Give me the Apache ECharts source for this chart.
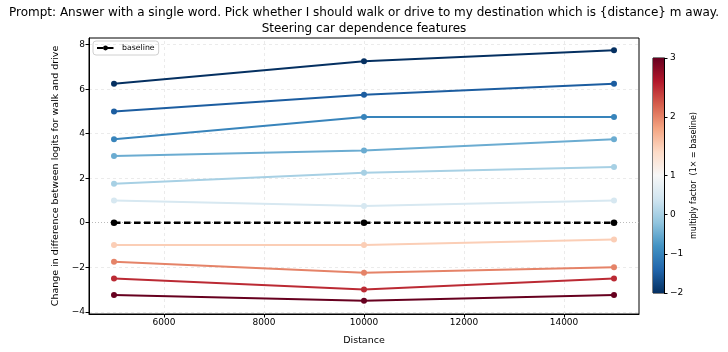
<!DOCTYPE html>
<html><head><meta charset="utf-8">
<script src="https://cdn.jsdelivr.net/npm/echarts@6/dist/echarts.min.js"></script>
<style>html,body{margin:0;padding:0;background:#fff}#c{width:728px;height:352px}</style>
</head><body><div id="c"></div>
<script>
// ---- data ----
const distances = [5000, 10000, 15000];
const xTicks = [6000, 8000, 10000, 12000, 14000];
const yTicks = [-4, -2, 0, 2, 4, 6, 8];
const cbarTicks = [-2, -1, 0, 1, 2, 3];
const factors = [-2, -1.5, -1, -0.5, 0, 0.5, 1.5, 2, 2.5, 3];
const f_m2_0 = [6.25, 7.25, 7.75];
const f_m1_5 = [5.0, 5.75, 6.25];
const f_m1_0 = [3.75, 4.75, 4.75];
const f_m0_5 = [3.0, 3.25, 3.75];
const f_0_0 = [1.75, 2.25, 2.5];
const f_0_5 = [1.0, 0.75, 1.0];
const f_1_5 = [-1.0, -1.0, -0.75];
const f_2_0 = [-1.75, -2.25, -2.0];
const f_2_5 = [-2.5, -3.0, -2.5];
const f_3_0 = [-3.25, -3.5, -3.25];
const baseline = [0, 0, 0];
const factorValues = [f_m2_0, f_m1_5, f_m1_0, f_m0_5, f_0_0, f_0_5, f_1_5, f_2_0, f_2_5, f_3_0];

// ---- colormap (RdBu_r, two-slope norm centred at 1) ----
const rdbu_r = ['#053061','#2166ac','#4393c3','#92c5de','#d1e5f0','#f7f7f7','#fddbc7','#f4a582','#d6604d','#b2182b','#67001f'];
function hex2rgb(h){return [parseInt(h.slice(1,3),16),parseInt(h.slice(3,5),16),parseInt(h.slice(5,7),16)];}
function cmap(t){
  t = Math.max(0, Math.min(1, t));
  const p = t * (rdbu_r.length - 1);
  const i = Math.min(Math.floor(p), rdbu_r.length - 2);
  const f = p - i;
  const a = hex2rgb(rdbu_r[i]), b = hex2rgb(rdbu_r[i+1]);
  return 'rgb(' + a.map((v,k)=>Math.round(v + (b[k]-v)*f)).join(',') + ')';
}
function norm(v){ return v < 1 ? 0.5 * (v + 2) / 3 : 0.5 + 0.5 * (v - 1) / 2; }
const minus = v => String(v).replace('-', '\u2212');

const FONT = 'DejaVu Sans';
const series = [];

// grid lines drawn from tick arrays via markLine on a helper series (below data)
series.push({
  type: 'line', xAxisIndex: 0, yAxisIndex: 0, data: [], silent: true, animation: false, z: 0,
  markLine: {
    silent: true, symbol: 'none', label: {show: false}, animation: false, z: 0,
    lineStyle: {color: '#e6e6e6', width: 0.8, type: [3, 3]},
    data: xTicks.map(v => ({xAxis: v})).concat(yTicks.filter(v => v !== 0).map(v => ({yAxis: v})))
  }
});
series.push({
  type: 'line', xAxisIndex: 0, yAxisIndex: 0, data: [], silent: true, animation: false, z: 0,
  markLine: {
    silent: true, symbol: 'none', label: {show: false}, animation: false, z: 0,
    lineStyle: {color: '#aaa', width: 0.8, type: [1, 2]},
    data: [{yAxis: 0}]
  }
});

factorValues.forEach((vals, i) => {
  const c = cmap(norm(factors[i]));
  series.push({
    name: 'factor ' + factors[i], type: 'line', xAxisIndex: 0, yAxisIndex: 0,
    data: distances.map((d, j) => [d, vals[j]]),
    symbol: 'circle', symbolSize: 6, showSymbol: true,
    lineStyle: {color: c, width: 2}, itemStyle: {color: c},
    z: 3, silent: true, animation: false
  });
});
series.push({
  name: 'baseline', type: 'line', xAxisIndex: 0, yAxisIndex: 0,
  data: distances.map((d, j) => [d, baseline[j]]),
  symbol: 'circle', symbolSize: 6.5,
  lineStyle: {color: '#000', width: 2.4, type: [6.5, 3.5]}, itemStyle: {color: '#000'},
  z: 6, animation: false
});
// colorbar
series.push({
  type: 'bar', xAxisIndex: 1, yAxisIndex: 1, data: [1], barWidth: '100%', silent: true, animation: false,
  itemStyle: {color: {type: 'linear', x: 0, y: 1, x2: 0, y2: 0,
    colorStops: rdbu_r.map((c, i) => ({offset: i / (rdbu_r.length - 1), color: c}))}}
});

const cbLabel = v => { const t = cbarTicks.find(k => Math.abs(norm(k) - v) < 1e-6); return t === undefined ? '' : minus(t); };

const option = {
  backgroundColor: '#fff',
  animation: false,
  textStyle: {fontFamily: FONT},
  title: {
    text: 'Prompt: Answer with a single word. Pick whether I should walk or drive to my destination which is {distance} m away.\nSteering car dependence features',
    left: 'center', top: 0,
    textStyle: {fontFamily: FONT, fontSize: 12, fontWeight: 'normal', color: '#000', lineHeight: 16}
  },
  legend: {
    data: [{name: 'baseline'}], left: 93, top: 41, orient: 'vertical',
    itemWidth: 17, itemHeight: 6, itemGap: 4,
    padding: [3, 4, 3, 3], borderColor: '#d0d0d0', borderWidth: 1, borderRadius: 3,
    textStyle: {fontFamily: FONT, fontSize: 7.8, color: '#000', padding: [0, 0, 0, 3]}
  },
  grid: [
    {left: 89, right: 89, top: 38, bottom: 38, show: true, borderColor: '#000', borderWidth: 1, backgroundColor: 'transparent'},
    {left: 653, width: 11, top: 58, height: 235, show: true, borderColor: '#000', borderWidth: 1}
  ],
  xAxis: [
    {type: 'value', gridIndex: 0, min: 4500, max: 15500,
     name: 'Distance', nameLocation: 'middle', nameGap: 22,
     nameTextStyle: {fontFamily: FONT, fontSize: 9.5, color: '#000'},
     axisLine: {show: true, onZero: false, lineStyle: {color: '#000'}},
     axisTick: {show: true, inside: false, length: 3.5, customValues: xTicks, lineStyle: {color: '#000'}},
     axisLabel: {customValues: xTicks, fontFamily: FONT, fontSize: 9, color: '#000', margin: 4, formatter: v => String(v)},
     splitLine: {show: false}},
    {type: 'category', gridIndex: 1, data: ['cb'], show: false}
  ],
  yAxis: [
    {type: 'value', gridIndex: 0, min: -4.1, max: 8.3,
     name: 'Change in difference between logits for walk and drive', nameLocation: 'middle', nameGap: 22,
     nameTextStyle: {fontFamily: FONT, fontSize: 9.5, color: '#000'},
     axisLine: {show: true, onZero: false, lineStyle: {color: '#000'}},
     axisTick: {show: true, inside: false, length: 3.5, customValues: yTicks, lineStyle: {color: '#000'}},
     axisLabel: {customValues: yTicks, fontFamily: FONT, fontSize: 9, color: '#000', margin: 4, formatter: minus},
     splitLine: {show: false}},
    {type: 'value', gridIndex: 1, min: 0, max: 1, position: 'right',
     name: 'multiply factor  (1\u00d7 = baseline)', nameLocation: 'middle', nameGap: 26, nameRotate: 90,
     nameTextStyle: {fontFamily: FONT, fontSize: 8, color: '#000'},
     axisLine: {show: true, onZero: false, lineStyle: {color: '#000'}},
     axisTick: {show: true, inside: false, length: 3.5, customValues: cbarTicks.map(norm), lineStyle: {color: '#000'}},
     axisLabel: {customValues: cbarTicks.map(norm), fontFamily: FONT, fontSize: 9, color: '#000', margin: 6, formatter: cbLabel},
     splitLine: {show: false}}
  ],
  series: series
};

const chart = echarts.init(document.getElementById('c'), null, {renderer: 'canvas'});
chart.setOption(option);
</script>
</body></html>
